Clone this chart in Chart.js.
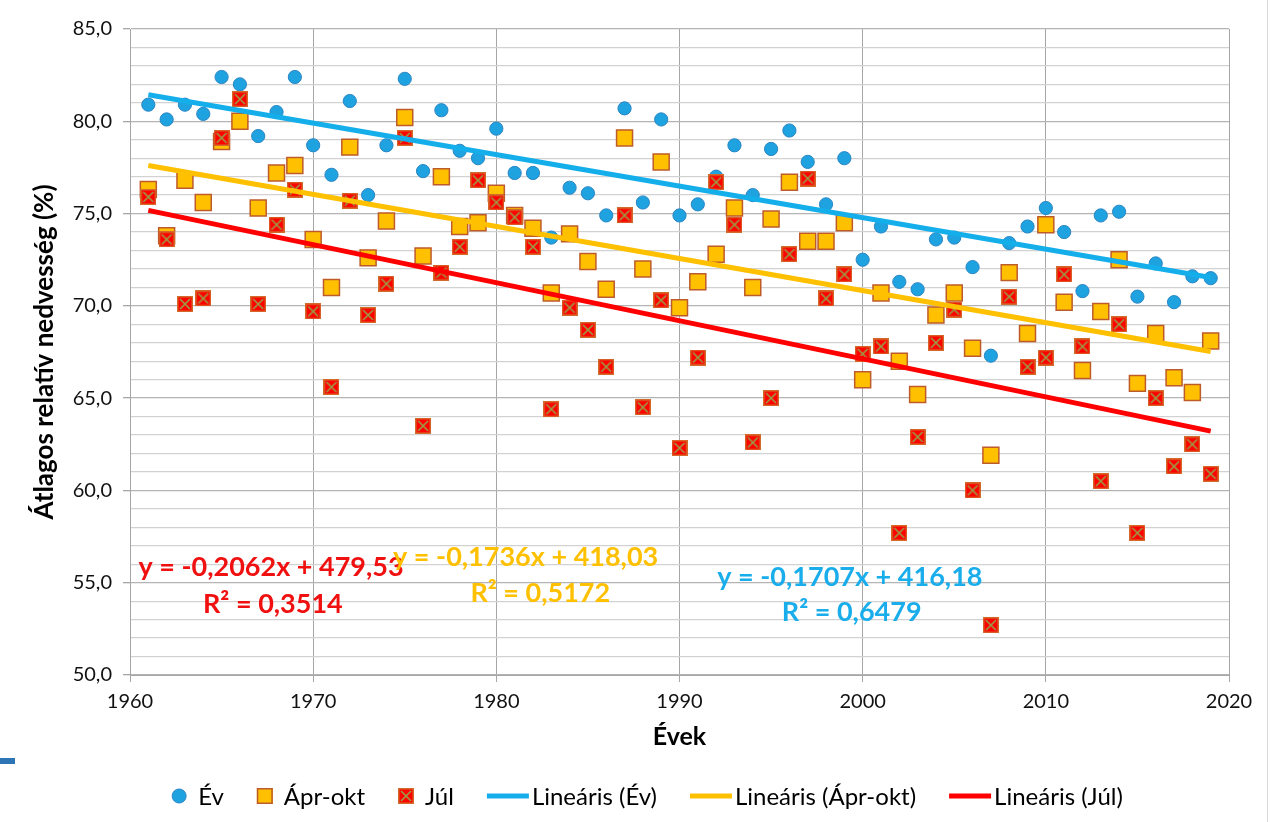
<!DOCTYPE html>
<html>
<head>
<meta charset="utf-8">
<script src="https://cdn.jsdelivr.net/npm/chart.js@4.4.1/dist/chart.umd.min.js"></script>
<style>
  html, body { margin: 0; padding: 0; background: #ffffff; }
  #wrap { position: relative; width: 1271px; height: 822px; }
</style>
</head>
<body>
<div id="wrap"><canvas id="c" width="1271" height="822"></canvas></div>
<script>
// Évek 1961–2019
const years = [
  1961,1962,1963,1964,1965,1966,1967,1968,1969,1970,
  1971,1972,1973,1974,1975,1976,1977,1978,1979,1980,
  1981,1982,1983,1984,1985,1986,1987,1988,1989,1990,
  1991,1992,1993,1994,1995,1996,1997,1998,1999,2000,
  2001,2002,2003,2004,2005,2006,2007,2008,2009,2010,
  2011,2012,2013,2014,2015,2016,2017,2018,2019
];

// Éves átlagos relatív nedvesség (%)
const evValues = [
  80.9,80.1,80.9,80.4,82.4,82.0,79.2,80.5,82.4,78.7,
  77.1,81.1,76.0,78.7,82.3,77.3,80.6,78.4,78.0,79.6,
  77.2,77.2,73.7,76.4,76.1,74.9,80.7,75.6,80.1,74.9,
  75.5,77.0,78.7,76.0,78.5,79.5,77.8,75.5,78.0,72.5,
  74.3,71.3,70.9,73.6,73.7,72.1,67.3,73.4,74.3,75.3,
  74.0,70.8,74.9,75.1,70.5,72.3,70.2,71.6,71.5
];

// Április–október átlag (%)
const aprOktValues = [
  76.3,73.8,76.8,75.6,78.9,80.0,75.3,77.2,77.6,73.6,
  71.0,78.6,72.6,74.6,80.2,72.7,77.0,74.3,74.5,76.1,
  74.9,74.2,70.7,73.9,72.4,70.9,79.1,72.0,77.8,69.9,
  71.3,72.8,75.3,71.0,74.7,76.7,73.5,73.5,74.5,66.0,
  70.7,67.0,65.2,69.5,70.7,67.7,61.9,71.8,68.5,74.4,
  70.2,66.5,69.7,72.5,65.8,68.5,66.1,65.3,68.1
];

// Július átlag (%)
const julValues = [
  75.9,73.6,70.1,70.4,79.1,81.2,70.1,74.4,76.3,69.7,
  65.6,75.7,69.5,71.2,79.1,63.5,71.8,73.2,76.8,75.6,
  74.8,73.2,64.4,69.9,68.7,66.7,74.9,64.5,70.3,62.3,
  67.2,76.7,74.4,62.6,65.0,72.8,76.9,70.4,71.7,67.4,
  67.8,57.7,62.9,68.0,69.8,60.0,52.7,70.5,66.7,67.2,
  71.7,67.8,60.5,69.0,57.7,65.0,61.3,62.5,60.9
];

// Lineáris trendek: y = a·x + b
const trendSlopes     = { ev: -0.1707, aprOkt: -0.1736, jul: -0.2062 };
const trendIntercepts = { ev: 416.18,  aprOkt: 418.03,  jul: 479.53 };
const trendR2         = { ev: 0.6479,  aprOkt: 0.5172,  jul: 0.3514 };

// Tengelyek
const xTicks = [1960, 1970, 1980, 1990, 2000, 2010, 2020];
const yMin = 50, yMax = 85;

const BLUE = '#1FA3E0', BLUE_LINE = '#14AEEB';
const ORANGE = '#FFC000';
const RED = '#FF0000';
const FONT = 'Lato, "Open Sans", "DejaVu Sans", sans-serif';

const fmt = (v, d) => v.toFixed(d).replace('.', ',');

// Piros négyzet olajzöld X-szel (júliusi jelölő)
function makeJulMarker(size) {
  const cv = document.createElement('canvas');
  cv.width = size; cv.height = size;
  const g = cv.getContext('2d');
  g.fillStyle = RED;
  g.fillRect(0, 0, size, size);
  g.strokeStyle = '#D46A2A';
  g.lineWidth = 1.5;
  g.strokeRect(0.75, 0.75, size - 1.5, size - 1.5);
  g.strokeStyle = '#98A048';
  g.lineWidth = 1.6;
  g.beginPath();
  g.moveTo(3, 3); g.lineTo(size - 3, size - 3);
  g.moveTo(size - 3, 3); g.lineTo(3, size - 3);
  g.stroke();
  return cv;
}
const julMarker = makeJulMarker(16);

const toPoints = vals => years.map((y, i) => ({ x: y, y: vals[i] }));
const trendPoints = key => {
  const x0 = years[0], x1 = years[years.length - 1];
  return [
    { x: x0, y: trendSlopes[key] * x0 + trendIntercepts[key] },
    { x: x1, y: trendSlopes[key] * x1 + trendIntercepts[key] }
  ];
};

const datasets = [
  { label: 'Év', data: toPoints(evValues), pointStyle: 'circle', pointRadius: 6.6,
    backgroundColor: BLUE, borderColor: '#2A86C4', borderWidth: 1, order: 4 },
  { label: 'Ápr-okt', data: toPoints(aprOktValues), pointStyle: 'rect', pointRadius: 11.3,
    backgroundColor: ORANGE, borderColor: '#BE5B2A', borderWidth: 1.5, order: 3 },
  { label: 'Júl', data: toPoints(julValues), pointStyle: julMarker, pointRadius: 8,
    backgroundColor: RED, borderColor: '#D46A2A', order: 2 },
  { label: 'Lineáris (Év)', data: trendPoints('ev'), showLine: true, pointRadius: 0,
    borderColor: BLUE_LINE, borderWidth: 5, order: 1 },
  { label: 'Lineáris (Ápr-okt)', data: trendPoints('aprOkt'), showLine: true, pointRadius: 0,
    borderColor: ORANGE, borderWidth: 5, order: 1 },
  { label: 'Lineáris (Júl)', data: trendPoints('jul'), showLine: true, pointRadius: 0,
    borderColor: RED, borderWidth: 5, order: 1 }
];

// Trendegyenletek szövege, adatkoordinátákban elhelyezve
const equationLabels = [
  { key: 'jul',    color: '#F01010', x: 1967.7, y: 55.85, rx: 1967.8, ry: 53.85 },
  { key: 'aprOkt', color: ORANGE,    x: 1981.6, y: 56.4,  rx: 1982.4, ry: 54.45 },
  { key: 'ev',     color: '#1AADEB', x: 1999.3, y: 55.3,  rx: 1999.4, ry: 53.4 }
];

const equationPlugin = {
  id: 'equations',
  afterDatasetsDraw(chart) {
    const { ctx, scales: { x, y } } = chart;
    ctx.save();
    ctx.font = 'bold 27px ' + FONT;
    ctx.textAlign = 'center';
    ctx.textBaseline = 'middle';
    equationLabels.forEach(l => {
      const a = trendSlopes[l.key], b = trendIntercepts[l.key];
      ctx.fillStyle = l.color;
      ctx.fillText('y = ' + fmt(a, 4) + 'x + ' + fmt(b, 2), x.getPixelForValue(l.x), y.getPixelForValue(l.y));
      ctx.fillText('R² = ' + fmt(trendR2[l.key], 4), x.getPixelForValue(l.rx), y.getPixelForValue(l.ry));
    });
    ctx.restore();
  }
};

// Jelmagyarázat alul: jelölők eltérő szélességgel
const legendPlugin = {
  id: 'bottomLegend',
  afterDraw(chart) {
    const { ctx } = chart;
    ctx.save();
    ctx.font = '24px ' + FONT;
    ctx.textBaseline = 'middle';
    const cy = 796;
    const items = chart.data.datasets.map(ds => {
      const isLine = !!ds.showLine;
      return { ds, isLine, mw: isLine ? 42 : 16, gap: isLine ? 3 : 11, tw: ctx.measureText(ds.label).width };
    });
    const spacing = 33;
    const total = items.reduce((s, it) => s + it.mw + it.gap + it.tw, 0) + spacing * (items.length - 1);
    let cx = 647 - total / 2;
    items.forEach(it => {
      const ds = it.ds;
      if (it.isLine) {
        ctx.strokeStyle = ds.borderColor;
        ctx.lineWidth = 5;
        ctx.beginPath();
        ctx.moveTo(cx, cy); ctx.lineTo(cx + it.mw, cy);
        ctx.stroke();
      } else if (ds.pointStyle === 'circle') {
        ctx.fillStyle = ds.backgroundColor;
        ctx.strokeStyle = ds.borderColor;
        ctx.lineWidth = 1;
        ctx.beginPath();
        ctx.arc(cx + 8, cy, 7, 0, Math.PI * 2);
        ctx.fill(); ctx.stroke();
      } else if (ds.pointStyle === 'rect') {
        ctx.fillStyle = ds.backgroundColor;
        ctx.strokeStyle = ds.borderColor;
        ctx.lineWidth = 1.5;
        ctx.fillRect(cx, cy - 8, 16, 16);
        ctx.strokeRect(cx + 0.75, cy - 7.25, 14.5, 14.5);
      } else {
        ctx.drawImage(ds.pointStyle, cx, cy - 8);
      }
      cx += it.mw + it.gap;
      ctx.fillStyle = '#000000';
      ctx.textAlign = 'left';
      ctx.fillText(ds.label, cx, cy + 1);
      cx += it.tw + spacing;
    });
    ctx.restore();
  }
};

// Keret jobb oldalon és kis kék jel bal oldalt
const framePlugin = {
  id: 'frame',
  beforeDraw(chart) {
    const { ctx } = chart;
    ctx.save();
    ctx.fillStyle = '#ffffff';
    ctx.fillRect(0, 0, chart.width, chart.height);
    ctx.strokeStyle = '#D9D9D9';
    ctx.lineWidth = 1;
    ctx.beginPath();
    ctx.moveTo(1267.5, 0); ctx.lineTo(1267.5, chart.height);
    ctx.stroke();
    ctx.fillStyle = '#2E75B6';
    ctx.fillRect(0, 758, 15, 6);
    ctx.restore();
  }
};

Chart.defaults.font.family = FONT;
Chart.defaults.color = '#000000';

new Chart(document.getElementById('c'), {
  type: 'scatter',
  data: { datasets },
  options: {
    responsive: false,
    devicePixelRatio: 1,
    animation: false,
    events: [],
    layout: { padding: { left: 0, right: 42, top: 29, bottom: 70 } },
    plugins: { legend: { display: false }, tooltip: { enabled: false } },
    scales: {
      x: {
        type: 'linear',
        min: xTicks[0],
        max: xTicks[xTicks.length - 1],
        afterBuildTicks: s => { s.ticks = xTicks.map(v => ({ value: v })); },
        afterFit: s => { s.height = 77; },
        ticks: { font: { size: 20 }, color: '#111', padding: 8, maxRotation: 0, autoSkip: false,
                 callback: v => String(v) },
        grid: { color: '#A6A6A6', lineWidth: 1, tickLength: 7, tickColor: '#A6A6A6' },
        border: { color: '#A6A6A6' },
        title: { display: true, text: 'Évek', font: { size: 25, weight: 'bold' }, color: '#000',
                 padding: { top: 0, bottom: 0 } }
      },
      y: {
        min: yMin,
        max: yMax,
        afterFit: s => { s.width = 130; },
        ticks: { stepSize: 1, autoSkip: false, font: { size: 20 }, color: '#111', padding: 11,
                 callback: v => (v % 5 === 0 ? fmt(v, 1) : '') },
        grid: {
          color: c => (c.tick && c.tick.value % 5 === 0 ? '#B4B4B4' : '#D2D2D2'),
          lineWidth: 1.3,
          tickLength: 7,
          tickColor: c => (c.tick && c.tick.value % 5 === 0 ? '#A6A6A6' : 'rgba(0,0,0,0)')
        },
        border: { color: '#A6A6A6' },
        title: { display: true, text: 'Átlagos relatív nedvesség (%)', font: { size: 26, weight: 'bold' },
                 color: '#000', padding: { top: 29, bottom: 0 } }
      }
    }
  },
  plugins: [framePlugin, equationPlugin, legendPlugin]
});
</script>
</body>
</html>
